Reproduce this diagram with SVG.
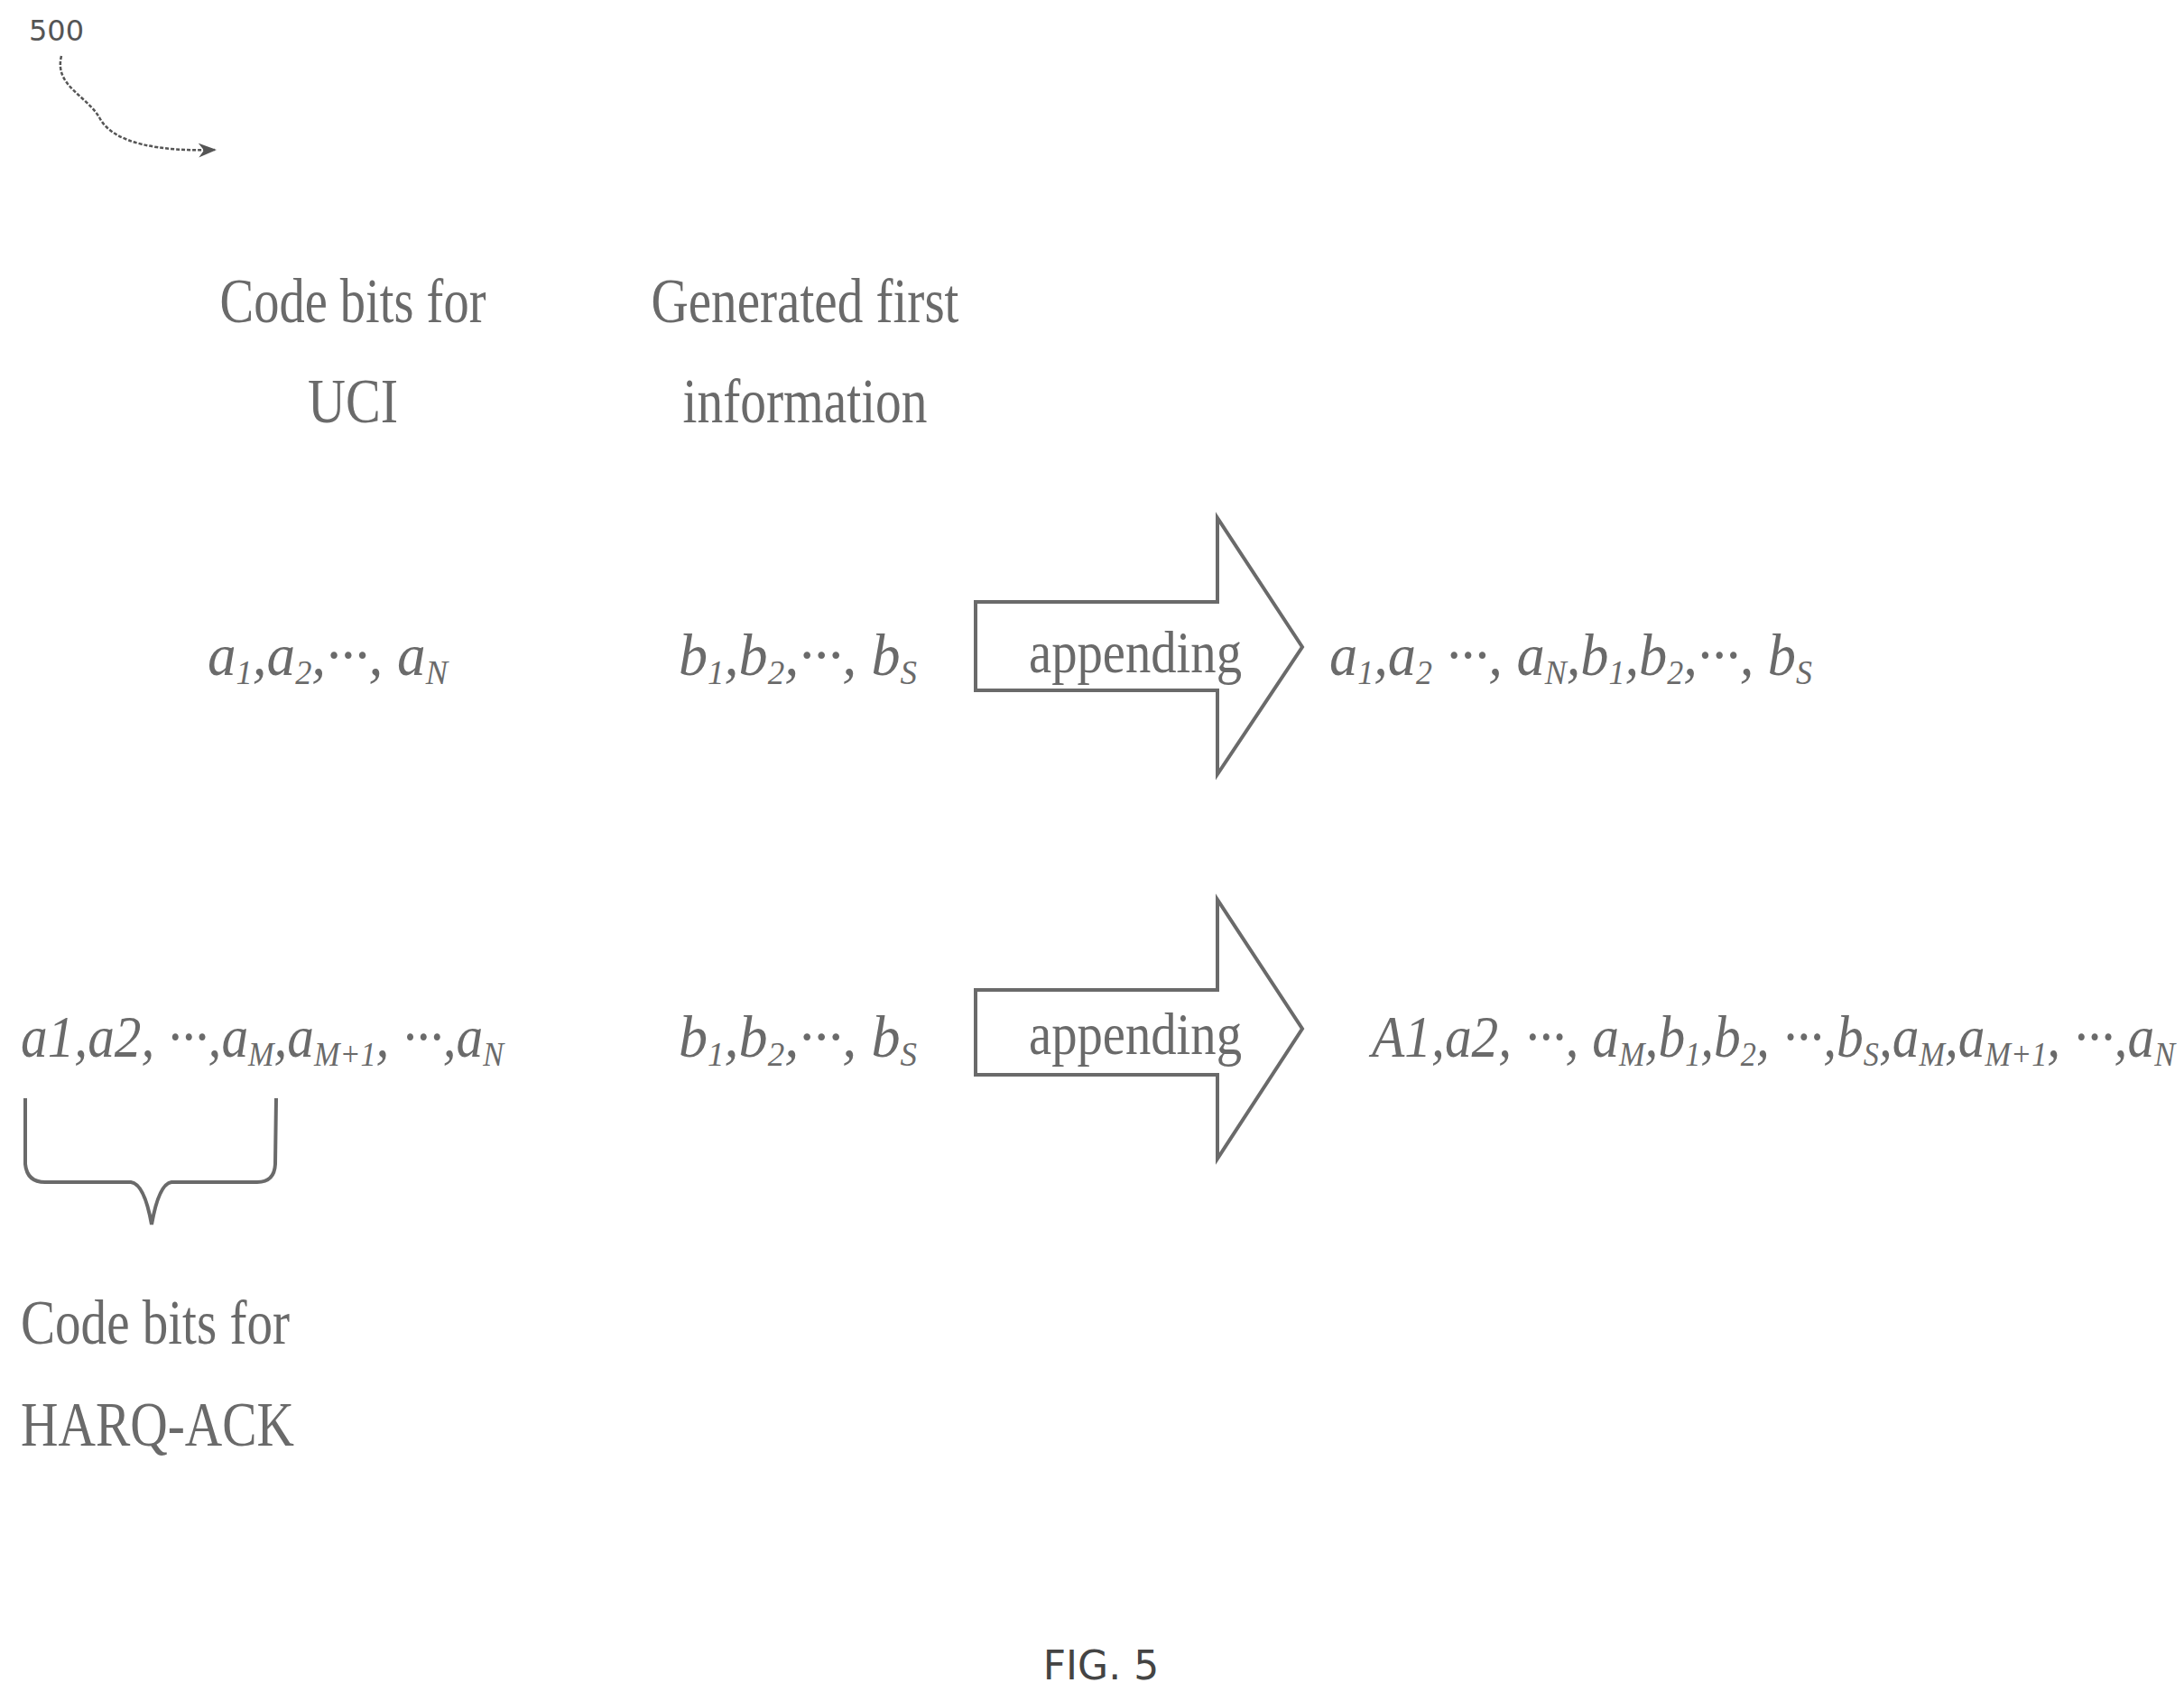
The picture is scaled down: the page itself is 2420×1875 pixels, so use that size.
<svg xmlns="http://www.w3.org/2000/svg" width="2420" height="1875" viewBox="0 0 2420 1875">
<style>
.t{font-family:"Liberation Serif",serif;font-size:70px;fill:#6a6a6a}
.m{font-family:"Liberation Serif",serif;font-style:italic;font-size:66px;fill:#6a6a6a}
.s{font-size:38px}
.ap{font-family:"Liberation Serif",serif;font-size:66px;fill:#6a6a6a}
.shape{fill:none;stroke:#6a6a6a;stroke-width:4}
</style>
<defs><marker id="ah" viewBox="0 0 10 10" refX="9" refY="5" markerWidth="8" markerHeight="8" orient="auto"><path d="M0,1 L10,5 L0,9 L3,5 Z" fill="#555"/></marker></defs>
<g id="ref500">
<text x="32" y="45" style="font-family:'DejaVu Sans',sans-serif;font-size:32px;fill:#555">500</text>
<path d="M68,62 C60,95 95,105 110,130 C125,160 180,168 238,166" fill="none" stroke="#555" stroke-width="2.5" stroke-dasharray="4 2" marker-end="url(#ah)"/>
</g>
<g id="hdr1"><text class="t" x="391" y="357" text-anchor="middle" textLength="295" lengthAdjust="spacingAndGlyphs">Code bits for</text><text class="t" x="391" y="468" text-anchor="middle" textLength="100" lengthAdjust="spacingAndGlyphs">UCI</text></g>
<g id="hdr2"><text class="t" x="892" y="357" text-anchor="middle" textLength="341" lengthAdjust="spacingAndGlyphs">Generated first</text><text class="t" x="892" y="468" text-anchor="middle" textLength="271" lengthAdjust="spacingAndGlyphs">information</text></g>
<g id="row1a"><text class="m" x="230" y="748" textLength="266" lengthAdjust="spacingAndGlyphs">a<tspan class="s" dy="10">1</tspan><tspan dy="-10">,a</tspan><tspan class="s" dy="10">2</tspan><tspan dy="-10">,···, a</tspan><tspan class="s" dy="10">N</tspan></text></g>
<g id="row1b"><text class="m" x="752" y="748" textLength="264" lengthAdjust="spacingAndGlyphs">b<tspan class="s" dy="10">1</tspan><tspan dy="-10">,b</tspan><tspan class="s" dy="10">2</tspan><tspan dy="-10">,···, b</tspan><tspan class="s" dy="10">S</tspan></text></g>
<g id="arrow1"><polygon class="shape" points="1081,667 1349,667 1349,574 1443,717 1349,858 1349,765 1081,765"/><text class="ap" x="1140" y="745" textLength="236" lengthAdjust="spacingAndGlyphs">appending</text></g>
<g id="out1"><text class="m" x="1473" y="748" textLength="535" lengthAdjust="spacingAndGlyphs">a<tspan class="s" dy="10">1</tspan><tspan dy="-10">,a</tspan><tspan class="s" dy="10">2</tspan><tspan dy="-10"> ···, a</tspan><tspan class="s" dy="10">N</tspan><tspan dy="-10">,b</tspan><tspan class="s" dy="10">1</tspan><tspan dy="-10">,b</tspan><tspan class="s" dy="10">2</tspan><tspan dy="-10">,···, b</tspan><tspan class="s" dy="10">S</tspan></text></g>
<g id="row2a"><text class="m" x="23" y="1171" textLength="535" lengthAdjust="spacingAndGlyphs">a1,a2, ···,a<tspan class="s" dy="10">M</tspan><tspan dy="-10">,a</tspan><tspan class="s" dy="10">M+1</tspan><tspan dy="-10">, ···,a</tspan><tspan class="s" dy="10">N</tspan></text></g>
<g id="row2b"><text class="m" x="752" y="1171" textLength="264" lengthAdjust="spacingAndGlyphs">b<tspan class="s" dy="10">1</tspan><tspan dy="-10">,b</tspan><tspan class="s" dy="10">2</tspan><tspan dy="-10">,···, b</tspan><tspan class="s" dy="10">S</tspan></text></g>
<g id="arrow2"><polygon class="shape" points="1081,1097 1349,1097 1349,997 1443,1140 1349,1284 1349,1191 1081,1191"/><text class="ap" x="1140" y="1168" textLength="236" lengthAdjust="spacingAndGlyphs">appending</text></g>
<g id="out2"><text class="m" x="1520" y="1171" textLength="890" lengthAdjust="spacingAndGlyphs">A1,a2, ···, a<tspan class="s" dy="10">M</tspan><tspan dy="-10">,b</tspan><tspan class="s" dy="10">1</tspan><tspan dy="-10">,b</tspan><tspan class="s" dy="10">2</tspan><tspan dy="-10">, ···,b</tspan><tspan class="s" dy="10">S</tspan><tspan dy="-10">,a</tspan><tspan class="s" dy="10">M</tspan><tspan dy="-10">,a</tspan><tspan class="s" dy="10">M+1</tspan><tspan dy="-10">, ···,a</tspan><tspan class="s" dy="10">N</tspan></text></g>
<g id="connectors"><path class="shape" d="M28,1217 L28,1290 Q30,1310 50,1310 L145,1310 Q160,1312 168,1357 Q176,1312 190,1310 L285,1310 Q304,1310 305,1290 L306,1217"/></g>
<g id="harq"><text class="t" x="23" y="1489" textLength="298" lengthAdjust="spacingAndGlyphs">Code bits for</text><text class="t" x="23" y="1602" textLength="303" lengthAdjust="spacingAndGlyphs">HARQ-ACK</text></g>
<g id="fig"><text x="1220" y="1861" text-anchor="middle" style="font-family:'DejaVu Sans',sans-serif;font-size:44px;fill:#444">FIG. 5</text></g>
</svg>
